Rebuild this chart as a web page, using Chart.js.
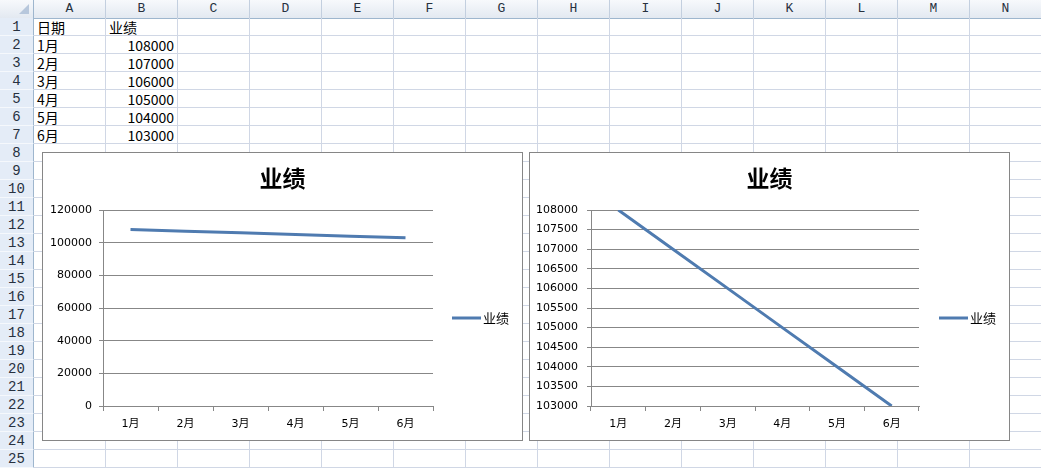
<!DOCTYPE html>
<html>
<head>
<meta charset="utf-8">
<script src="https://cdn.jsdelivr.net/npm/chart.js@4"></script>
<style>
  html, body { margin:0; padding:0; }
  body { width:1041px; height:468px; overflow:hidden; background:#fff; position:relative; font-family:"Noto Sans CJK SC", sans-serif; }
  .abs { position:absolute; box-sizing:border-box; }
  .colhdr { top:0; height:19px; background:linear-gradient(#f7f9fc,#e3e9f1); border-right:1px solid #c3cfdf; border-bottom:1px solid #9eb6ce; font:13px "Liberation Mono", monospace; color:#27313f; text-align:center; line-height:18px; }
  .rowhdr { left:0; width:34px; background:#e4ecf7; border-right:1px solid #9eb6ce; border-bottom:1px solid #f5f8fc; font:14px "Liberation Mono", monospace; color:#27313f; text-align:center; line-height:18px; }
  .cell { height:18px; width:72px; border-right:1px solid #d0d7e5; border-bottom:1px solid #d0d7e5; font-size:14px; line-height:18px; color:#000; padding:0 3px; white-space:nowrap; }
  .num { text-align:right; padding-right:3px; }
  .box { background:#fff; border:1px solid #868686; }
  canvas { display:block; }
</style>
</head>
<body>
<div id="sheet"></div>
<div class="abs box" style="left:42px; top:152px; width:481px; height:289px;"><canvas id="c1" width="479" height="287"></canvas></div>
<div class="abs box" style="left:529px; top:152px; width:481px; height:289px;"><canvas id="c2" width="479" height="287"></canvas></div>
<script>
// ---- data ----
const headerDate = "日期";
const seriesName = "业绩";
const months = ["1月","2月","3月","4月","5月","6月"];
const values = [108000, 107000, 106000, 105000, 104000, 103000];
const columnLetters = ["A","B","C","D","E","F","G","H","I","J","K","L","M","N"];
const leftAxisTicks = { min: 0, max: 120000, step: 20000 };
const rightAxisTicks = { min: 103000, max: 108000, step: 500 };

// ---- spreadsheet grid ----
const sheet = document.getElementById('sheet');
function add(cls, style, text) {
  const d = document.createElement('div');
  d.className = 'abs ' + cls;
  Object.assign(d.style, style);
  if (text !== undefined) d.textContent = text;
  sheet.appendChild(d);
  return d;
}
const COLW = 72, ROWH = 18, X0 = 34, Y0 = 18;
const corner = add('colhdr', {left:'0px', width:'34px', borderRight:'1px solid #9eb6ce'});
corner.innerHTML = '<svg width="33" height="18" style="position:absolute;left:0;top:0"><polygon points="29,4 29,14 19,14" fill="#b7c7dc"/></svg>';
for (let c = 0; c < columnLetters.length; c++) {
  add('colhdr', {left:(X0 + c*COLW)+'px', width:COLW+'px'}, columnLetters[c]);
}
for (let r = 0; r < 25; r++) {
  add('rowhdr', {top:(Y0 + r*ROWH)+'px', height:ROWH+'px'}, String(r+1));
  for (let c = 0; c < columnLetters.length; c++) {
    let txt = '', cls = 'cell';
    if (r === 0 && c === 0) txt = headerDate;
    if (r === 0 && c === 1) txt = seriesName;
    if (r >= 1 && r <= months.length) {
      if (c === 0) txt = months[r-1];
      if (c === 1) { txt = String(values[r-1]); cls += ' num'; }
    }
    add(cls, {left:(X0 + c*COLW)+'px', top:(Y0 + r*ROWH)+'px'}, txt);
  }
}

// ---- charts ----
const LINE = '#4f7bb0';
const GRID = '#878787';
const TICKFONT = { family: '"DejaVu Sans", "Noto Sans CJK SC", sans-serif', size: 11 };

function decorPlugin() {
  return {
    id: 'decor',
    afterDraw(chart) {
      const ctx = chart.ctx;
      ctx.save();
      ctx.fillStyle = '#000';
      ctx.font = 'bold 23px "Noto Sans CJK SC", sans-serif';
      ctx.textAlign = 'center';
      ctx.textBaseline = 'middle';
      ctx.fillText(seriesName, chart.width / 2, 25);
      ctx.strokeStyle = LINE;
      ctx.lineWidth = 3;
      ctx.beginPath();
      ctx.moveTo(409, 165);
      ctx.lineTo(438, 165);
      ctx.stroke();
      ctx.font = '13px "Noto Sans CJK SC", sans-serif';
      ctx.textAlign = 'left';
      ctx.fillText(seriesName, 440, 165);
      ctx.restore();
    }
  };
}

function makeChart(id, axis, yWidth, padRight, labelPad) {
  return new Chart(document.getElementById(id), {
    type: 'line',
    data: {
      labels: months,
      datasets: [{
        label: seriesName,
        data: values,
        borderColor: LINE,
        borderWidth: 3,
        pointRadius: 0,
        tension: 0,
        fill: false
      }]
    },
    options: {
      responsive: false,
      animation: false,
      devicePixelRatio: 1,
      layout: { padding: { left: 0, top: 57, right: padRight, bottom: 0 } },
      plugins: { legend: { display: false }, title: { display: false }, tooltip: { enabled: false } },
      scales: {
        x: {
          type: 'category',
          offset: true,
          grid: { offset: true, drawOnChartArea: false, drawTicks: true, tickLength: 5, color: GRID, lineWidth: 1 },
          border: { display: true, color: GRID, width: 1 },
          ticks: { font: TICKFONT, color: '#000', padding: 7, maxRotation: 0, autoSkip: false },
          afterFit(scale) { scale.height = 34; }
        },
        y: {
          min: axis.min,
          max: axis.max,
          grid: { color: GRID, lineWidth: 1, drawTicks: true, tickLength: 4 },
          border: { display: true, color: GRID, width: 1 },
          ticks: {
            stepSize: axis.step,
            font: TICKFONT,
            color: '#000',
            padding: labelPad,
            callback: v => String(v)
          },
          afterFit(scale) { scale.width = yWidth; }
        }
      }
    },
    plugins: [decorPlugin()]
  });
}
makeChart('c1', leftAxisTicks, 60, 89, 7);
makeChart('c2', rightAxisTicks, 61, 90, 9);
</script>
</body>
</html>
